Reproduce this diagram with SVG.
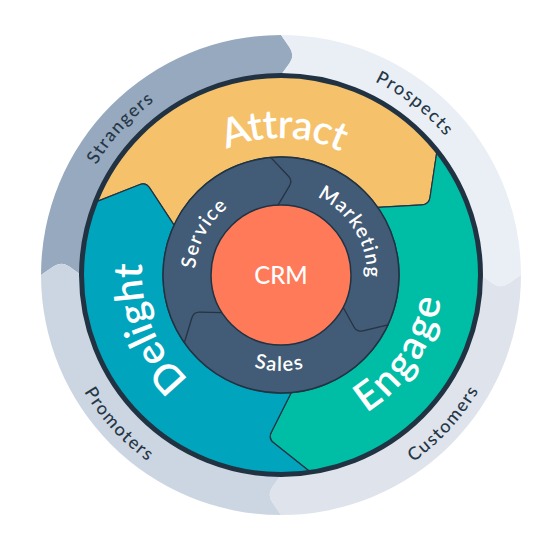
<svg xmlns="http://www.w3.org/2000/svg" width="550" height="540" viewBox="0 0 550 540">
<style>
.t{font-family:Lato,"Open Sans","DejaVu Sans",sans-serif;}
.outer{font-size:18px;fill:#253746;letter-spacing:1.5px;font-weight:500}
.big{font-size:40px;fill:#ffffff;font-weight:600}
.mid{font-size:20px;fill:#ffffff;font-weight:600;letter-spacing:1.2px}
.seg{stroke:#213343;stroke-width:1.2;stroke-linejoin:round}
.bnd{fill:none;stroke:#253342;stroke-width:1.3;stroke-linecap:round;stroke-linejoin:round}
</style>
<defs>
<path id="pStr" d="M 66.2,265.6 A 215 215 0 0 1 252.9,61.8"/>
<path id="pPro" d="M 273.5,60.1 A 215 215 0 0 1 491.3,230.3"/>
<path id="pCus" d="M 311.3,502.0 A 229 229 0 0 0 509.8,284.6"/>
<path id="pPrm" d="M 52.3,285.8 A 229 229 0 0 0 251.9,502.1"/>
<path id="pAtt" d="M 163.6,204.4 A 137 137 0 0 1 400.8,208.6"/>
<path id="pDel" d="M 215.7,397.7 A 139 139 0 0 1 148.8,232.0"/>
<path id="pEng" d="M 328.4,429.9 A 162 162 0 0 0 441.8,255.3"/>
<path id="pSer" d="M 196.8,292.3 A 86 86 0 0 1 249.3,195.0"/>
<path id="pMkt" d="M 286.3,189.2 A 86 86 0 0 1 359.9,309.3"/>
<path id="pSal" d="M 218.0,347.5 A 96 96 0 0 0 341.4,349.6"/>
</defs>
<rect width="550" height="540" fill="#ffffff"/>

<g id="strangers">
<path fill="#97A9BE" d="M 41,275 A 240 240 0 0 1 281,35 L 289.5,47.3 Q 295.2,55.5 289.5,63.3 L 281,75 A 200 200 0 0 0 81,275 L 69.3,266.5 Q 61.5,260.8 53.3,266.5 Z"/>
<text class="t outer" text-anchor="middle"><textPath href="#pStr" startOffset="50%">Strangers</textPath></text>
</g>
<g id="prospects">
<path fill="#EAEFF6" d="M 281,35 A 240 240 0 0 1 521,275 L 508.7,283.5 Q 500.5,289.2 492.7,283.5 L 481,275 A 200 200 0 0 0 281,75 L 289.5,63.3 Q 295.2,55.5 289.5,47.3 Z"/>
<text class="t outer" text-anchor="middle"><textPath href="#pPro" startOffset="50%">Prospects</textPath></text>
</g>
<g id="customers">
<path fill="#DFE3EC" d="M 521,275 A 240 240 0 0 1 281,515 L 272.5,502.7 Q 266.8,494.5 272.5,486.7 L 281,475 A 200 200 0 0 0 481,275 L 492.7,283.5 Q 500.5,289.2 508.7,283.5 Z"/>
<text class="t outer" text-anchor="middle"><textPath href="#pCus" startOffset="50%">Customers</textPath></text>
</g>
<g id="promoters">
<path fill="#CCD6E2" d="M 281,515 A 240 240 0 0 1 41,275 L 53.3,266.5 Q 61.5,260.8 69.3,266.5 L 81,275 A 200 200 0 0 0 281,475 L 272.5,486.7 Q 266.8,494.5 272.5,502.7 Z"/>
<text class="t outer" text-anchor="middle"><textPath href="#pPrm" startOffset="50%">Promoters</textPath></text>
</g>

<g id="attract">
<path class="seg" fill="#F5C26B" d="M 94.7,202.4 A 200 200 0 0 1 437.1,150.0 L 430.0,197.5 Q 429.0,204.4 422.0,204.8 L 377.7,207.3 A 118 118 0 0 0 174.1,225.1 L 149.6,187.9 Q 145.8,182.1 139.3,184.7 Z"/>
<text class="t big" text-anchor="middle" letter-spacing="-1"><textPath href="#pAtt" startOffset="50%">Attract</textPath></text>
</g>
<g id="engage">
<path class="seg" fill="#00BDA5" d="M 437.1,150.0 A 200 200 0 0 1 311.3,472.7 L 273.6,442.8 Q 268.1,438.5 271.3,432.3 L 291.3,392.6 A 118 118 0 0 0 377.7,207.3 L 422.0,204.8 Q 429.0,204.4 430.0,197.5 Z"/>
<text class="t big" text-anchor="middle" letter-spacing="2.5"><textPath href="#pEng" startOffset="50%">Engage</textPath></text>
</g>
<g id="delight">
<path class="seg" fill="#00A4BD" d="M 311.3,472.7 A 200 200 0 0 1 94.7,202.4 L 139.3,184.7 Q 145.8,182.1 149.6,187.9 L 174.1,225.1 A 118 118 0 0 0 291.3,392.6 L 271.3,432.3 Q 268.1,438.5 273.6,442.8 Z"/>
<text class="t big" text-anchor="middle"><textPath href="#pDel" startOffset="50%">Delight</textPath></text>
</g>

<circle cx="281" cy="275" r="199.5" fill="none" stroke="#213343" stroke-width="5"/>

<g id="hub">
<circle cx="281" cy="275" r="118" fill="#425B76" stroke="#213343" stroke-width="1.5"/>
</g>

<g id="connectors">
<path class="bnd" d="M 270.7,157.4 L 288.5,176.3 Q 292.6,180.7 289.5,185.9 L 278.0,205.1"/>
<path class="bnd" d="M 387.9,324.9 L 362.8,330.8 Q 356.9,332.2 354.0,327.0 L 343.1,307.3"/>
<path class="bnd" d="M 184.3,342.7 L 191.9,317.8 Q 193.6,312.1 199.6,312.2 L 222.0,312.6"/>
</g>

<g id="service">
<text class="t mid" text-anchor="middle"><textPath href="#pSer" startOffset="50%">Service</textPath></text>
</g>
<g id="marketing">
<text class="t mid" text-anchor="middle"><textPath href="#pMkt" startOffset="50%">Marketing</textPath></text>
</g>
<g id="sales">
<text class="t mid" text-anchor="middle" letter-spacing="2"><textPath href="#pSal" startOffset="50%">Sales</textPath></text>
</g>

<g id="crm">
<circle cx="281" cy="275" r="70" fill="#FF7A59" stroke="#213343" stroke-width="1.5"/>
<text class="t" x="281" y="283.5" text-anchor="middle" font-size="24" font-weight="500" fill="#ffffff">CRM</text>
</g>
</svg>
